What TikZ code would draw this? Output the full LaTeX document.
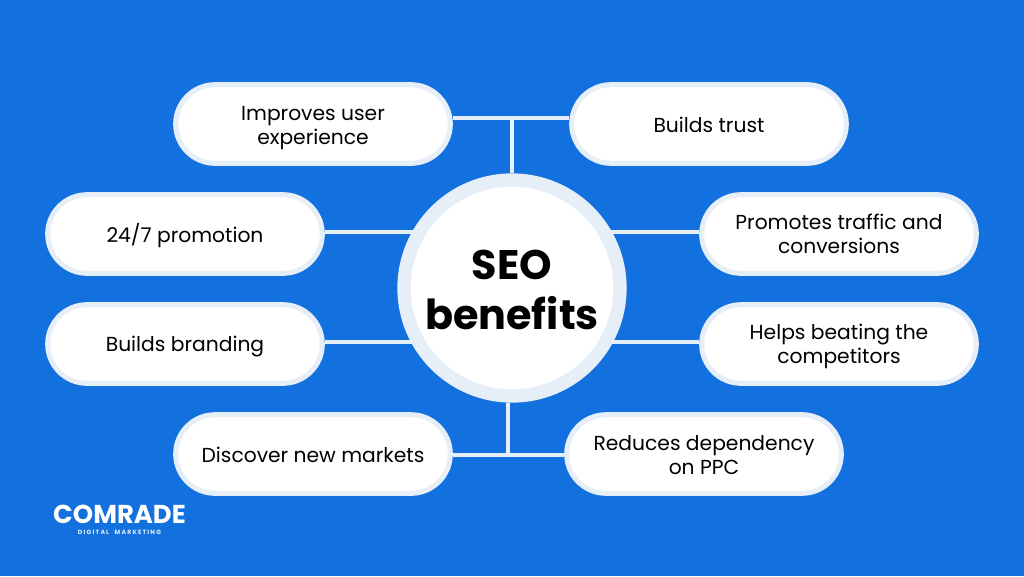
\documentclass[tikz,border=0pt]{standalone}
\usepackage{fontspec}
\usepackage{xcolor}
\setmainfont{Poppins}
\newfontfamily\smalllogofont[LetterSpace=20,WordSpace=2.2]{Poppins}
\usetikzlibrary{backgrounds,shapes.misc}
\definecolor{seoblue}{HTML}{1271DF}
\definecolor{seopale}{HTML}{E6EEF7}
\newcommand{\toppad}[1]{\rule{0pt}{#1}}
\tikzset{
	pill/.style={rounded rectangle, draw=seopale, fill=white, line width=3.75pt, minimum width=206pt, minimum height=59pt, inner sep=0pt, align=center, text=black, font=\fontsize{15.2pt}{18pt}\selectfont},
	link/.style={draw=seopale, line width=2.5pt}
}
\begin{document}
\begin{tikzpicture}[x=0.75pt, y=-0.75pt]
	\useasboundingbox (0,0) rectangle (1024,576);
	\node[circle, draw=seopale, fill=white, line width=10pt, minimum size=162pt, inner sep=0pt, align=center, font=\fontsize{31pt}{37.5pt}\selectfont\bfseries] (seo) at (512,288) {\toppad{25pt}SEO\\benefits};

	\node[pill] (improves) at (313,124) {\toppad{16pt}Improves user\\experience};
	\node[pill] (trust) at (709,124) {\toppad{13pt}Builds trust};
	\node[pill] (promo) at (185,234) {\toppad{16pt}24/7 promotion};
	\node[pill] (traffic) at (839,234) {\toppad{12pt}Promotes traffic and\\conversions};
	\node[pill] (branding) at (185,344) {\toppad{16pt}Builds branding};
	\node[pill] (beating) at (839,344) {\toppad{14.5pt}Helps beating the\\competitors};
	\node[pill] (markets) at (313,454) {\toppad{13pt}Discover new markets};
	\node[pill] (reduces) at (704,454) {\toppad{13pt}Reduces dependency\\on PPC};

	\node[text=white, font=\fontsize{19.4pt}{19.4pt}\selectfont\bfseries, inner sep=0pt] (comrade) at (119.5,514) {COMRADE};
	\node[text=seopale, font=\fontsize{4.6pt}{5pt}\smalllogofont\bfseries, inner sep=0pt] (tagline) at (119.5,532) {DIGITAL MARKETING};

	\begin{scope}[on background layer]
		\fill[seoblue] (0,0) rectangle (1024,576);
		% top and bottom bars
		\coordinate (topleft) at ([yshift=4.5pt]improves.east);
		\coordinate (botleft) at ([yshift=-0.75pt]markets.east);
		\draw[link] (topleft) -- ([yshift=4.5pt]trust.west);
		\draw[link] (seo.north) -- (seo.north |- topleft);
		\draw[link] (botleft) -- ([yshift=-0.75pt]reduces.west);
		\draw[link] ([xshift=-3pt]seo.south) -- ([xshift=-3pt]seo.south |- botleft);
		% side links
		\foreach \pillname/\endname in {promo/east, traffic/west, branding/east, beating/west} {
			\draw[link] ([yshift=1.5pt]\pillname.\endname) -- ([yshift=1.5pt]\pillname.\endname -| seo.center);
		};
	\end{scope}
\end{tikzpicture}
\end{document}
